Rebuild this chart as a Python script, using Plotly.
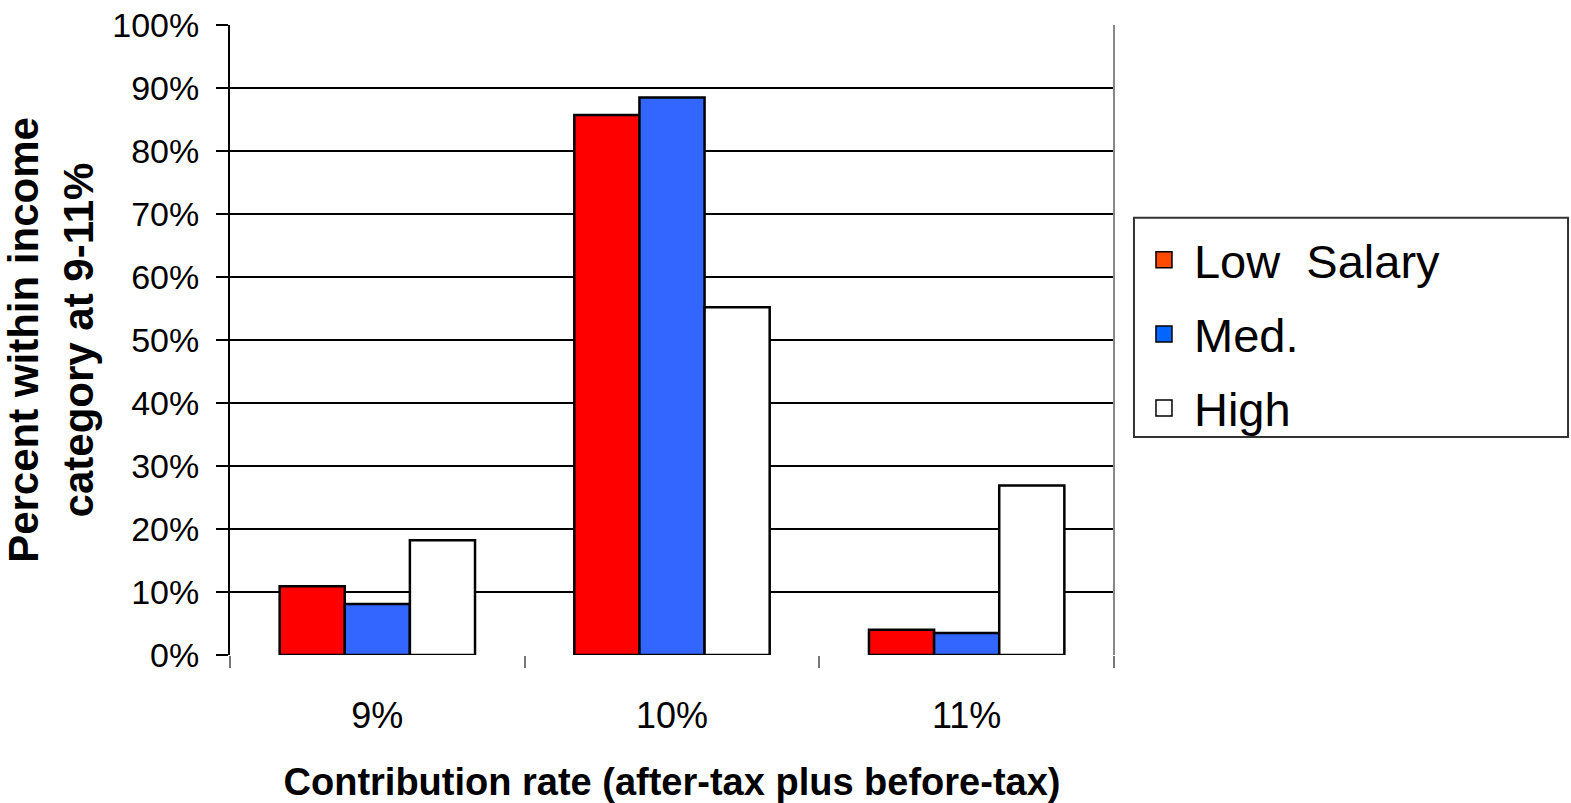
import plotly.graph_objects as go

# Contribution-rate categories and share of each income group (percent)
categories = ["9%", "10%", "11%"]
low_salary = [10.9, 85.7, 4.0]
med_salary = [8.1, 88.5, 3.5]
high_salary = [18.2, 55.2, 26.9]

series_names = ["Low\u00a0\u00a0Salary", "Med.", "High"]
bar_colors = ["#FF0000", "#3366FF", "#FFFFFF"]
key_colors = ["#FF4A00", "#0066FF", "#FFFFFF"]
y_ticks = list(range(0, 101, 10))

FONT = "Liberation Sans, Arial, sans-serif"

fig = go.Figure()
for name, vals, color in zip(series_names, [low_salary, med_salary, high_salary], bar_colors):
    fig.add_trace(go.Bar(
        x=categories, y=vals, name=name, showlegend=False,
        marker=dict(color=color, line=dict(color="#000000", width=2.5)),
    ))

# Legend keys drawn as larger square swatches
for name, color in zip(series_names, key_colors):
    fig.add_trace(go.Scatter(
        x=[None], y=[None], mode="markers", name=name,
        marker=dict(symbol="square", size=16, color=color,
                    line=dict(color="#000000", width=1.5)),
        legendgroup=name,
    ))

fig.update_layout(
    width=1571, height=803,
    margin=dict(l=230, r=457, t=25, b=148, autoexpand=False),
    paper_bgcolor="white", plot_bgcolor="white",
    barmode="group", bargap=0.337, bargroupgap=0,
    font=dict(family=FONT, color="black"),
    showlegend=True,
    legend=dict(
        x=1.0226, y=0.686, xanchor="left", yanchor="top",
        bgcolor="rgba(0,0,0,0)", borderwidth=0,
        font=dict(family=FONT, size=47, color="black"),
        tracegroupgap=10, traceorder="grouped",
        itemwidth=50, itemsizing="trace",
    ),
    xaxis=dict(
        type="category", showgrid=False, showline=False, zeroline=False,
        ticks="outside", tickson="boundaries", ticklen=12, tickwidth=2, tickcolor="#777777",
        tickfont=dict(family=FONT, size=36), ticklabelstandoff=36,
        title=dict(text="<b>Contribution rate (after-tax plus before-tax)</b>",
                   font=dict(family=FONT, size=38), standoff=34),
    ),
    yaxis=dict(
        range=[0, 100], tickvals=y_ticks, ticktext=[f"{v}%" for v in y_ticks],
        showgrid=True, gridcolor="#000000", gridwidth=1.5,
        showline=True, linecolor="#000000", linewidth=2,
        ticks="outside", ticklen=12, tickwidth=1.5, tickcolor="#000000",
        tickfont=dict(family=FONT, size=34), ticklabelstandoff=10,
        zeroline=False,
        title=dict(text="<b>Percent within income<br>category at 9-11%</b>",
                   font=dict(family=FONT, size=42), standoff=22),
    ),
    shapes=[
        # right edge of the plotting area
        dict(type="line", xref="paper", yref="paper", x0=1, x1=1, y0=0, y1=1,
             line=dict(color="#888888", width=2)),
        # legend frame
        dict(type="rect", xref="paper", yref="paper",
             x0=1.0226, x1=1.5136, y0=0.346, y1=0.694,
             line=dict(color="#333333", width=2), fillcolor="rgba(0,0,0,0)", layer="below"),
    ],
)

fig.write_html("out.html")
